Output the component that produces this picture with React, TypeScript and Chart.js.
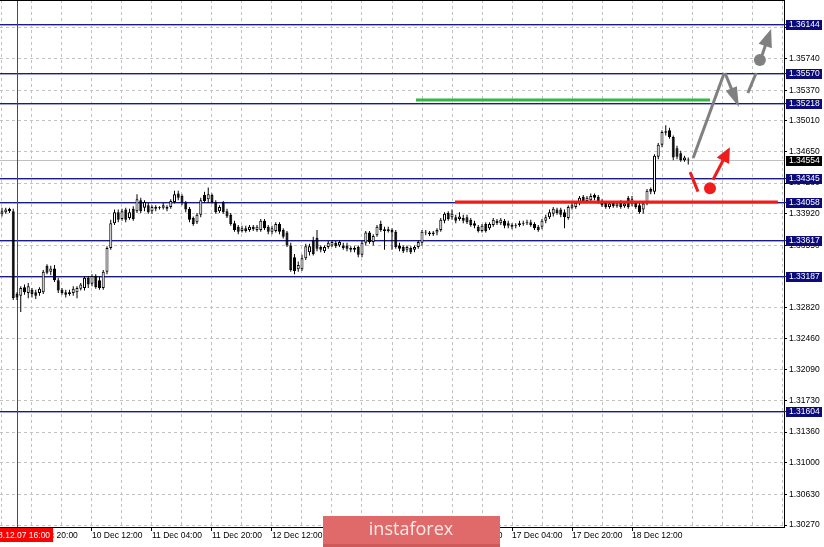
import React, { useEffect, useRef } from "react";
import { Chart, registerables } from "chart.js";

Chart.register(...registerables);

// ---- data (H1 candles, bar index 0 = 2018.12.07 16:00) ----
const FIRST_BAR = -4;

const opens = [
  1.3392, 1.3394, 1.3398, 1.3395, 1.3298, 1.3296, 1.3306, 1.3299, 1.3303, 1.33,
  1.3299, 1.33, 1.3331, 1.3324, 1.3328, 1.3314, 1.3303, 1.33, 1.3298, 1.3299,
  1.33, 1.3304, 1.3305, 1.3317, 1.331, 1.3319, 1.3314, 1.3305, 1.3324, 1.3352,
  1.3381, 1.3394, 1.3386, 1.3397, 1.3387, 1.3398, 1.3395, 1.3408, 1.3399, 1.3402,
  1.3395, 1.34, 1.3399, 1.3399, 1.34, 1.34, 1.3406, 1.3416, 1.3413, 1.3405,
  1.3398, 1.3387, 1.3382, 1.3391, 1.3414, 1.3409, 1.3414, 1.3406, 1.3395, 1.3405,
  1.3395, 1.3391, 1.3381, 1.3377, 1.3372, 1.3375, 1.3373, 1.3377, 1.3373, 1.3373,
  1.3384, 1.3377, 1.3371, 1.3372, 1.338, 1.3373, 1.337, 1.3355, 1.3341, 1.3327,
  1.3327, 1.334, 1.3347, 1.3361, 1.3364, 1.3353, 1.3348, 1.3353, 1.3355, 1.3358,
  1.3355, 1.3355, 1.3355, 1.3352, 1.335, 1.3353, 1.3344, 1.3358, 1.337, 1.3359,
  1.3367, 1.338, 1.3374, 1.3372, 1.3373, 1.3371, 1.3355, 1.3353, 1.335, 1.3352,
  1.335, 1.3353, 1.3358, 1.3371, 1.337, 1.3368, 1.337, 1.3373, 1.3384, 1.3393,
  1.3388, 1.3388, 1.3386, 1.3387, 1.3388, 1.3385, 1.3381, 1.3377, 1.3372, 1.338,
  1.3375, 1.3379, 1.3384, 1.3381, 1.3384, 1.3381, 1.3377, 1.3379, 1.3379, 1.3381,
  1.3381, 1.3382, 1.338, 1.3377, 1.3377, 1.3384, 1.3388, 1.3392, 1.3397, 1.3397,
  1.3394, 1.3387, 1.3399, 1.34, 1.3405, 1.3412, 1.3407, 1.3408, 1.3414, 1.3412,
  1.3407, 1.3405, 1.34, 1.3405, 1.3401, 1.3405, 1.3401, 1.3411, 1.3404, 1.3405,
  1.3402, 1.3397, 1.3405, 1.3421, 1.3418, 1.3459, 1.3473, 1.3487, 1.349, 1.3482,
  1.3469, 1.3463, 1.3455, 1.3456,
];

const highs = [
  1.3399, 1.3399, 1.3399, 1.3398, 1.33, 1.3307, 1.3309, 1.3311, 1.3305, 1.3303,
  1.3306, 1.3326, 1.3333, 1.3331, 1.3332, 1.3317, 1.3305, 1.3303, 1.3303, 1.3307,
  1.3307, 1.3311, 1.3319, 1.3319, 1.3321, 1.3321, 1.3318, 1.3326, 1.3354, 1.3385,
  1.3397, 1.3397, 1.3398, 1.3399, 1.3398, 1.3401, 1.3415, 1.3411, 1.3408, 1.3405,
  1.3402, 1.3402, 1.3401, 1.3405, 1.3402, 1.3409, 1.3419, 1.3419, 1.3415, 1.3407,
  1.34, 1.3389, 1.3393, 1.3411, 1.3418, 1.3423, 1.3416, 1.3408, 1.3402, 1.3407,
  1.3398, 1.3393, 1.3384, 1.3379, 1.3378, 1.3378, 1.3379, 1.3379, 1.3379, 1.3386,
  1.3386, 1.3379, 1.3378, 1.3382, 1.3382, 1.3375, 1.3372, 1.3358, 1.3345, 1.3336,
  1.3344, 1.3357, 1.3357, 1.3365, 1.3373, 1.3355, 1.3355, 1.336, 1.3361, 1.336,
  1.3361, 1.3358, 1.3358, 1.3354, 1.3354, 1.3355, 1.336, 1.3372, 1.3372, 1.3368,
  1.3379, 1.3384, 1.3377, 1.3377, 1.3375, 1.3373, 1.3358, 1.3355, 1.3355, 1.3354,
  1.3355, 1.3361, 1.3373, 1.3373, 1.3372, 1.3372, 1.3375, 1.3387, 1.3394, 1.3395,
  1.3397, 1.3391, 1.3394, 1.3391, 1.3391, 1.3387, 1.3384, 1.3379, 1.338, 1.3382,
  1.3382, 1.3387, 1.3386, 1.3387, 1.3386, 1.3384, 1.3381, 1.3381, 1.3384, 1.3384,
  1.3385, 1.3385, 1.3382, 1.3379, 1.3386, 1.3391, 1.3397, 1.34, 1.3399, 1.3399,
  1.3397, 1.3402, 1.3405, 1.3407, 1.3413, 1.3414, 1.3413, 1.3416, 1.3416, 1.3414,
  1.3409, 1.3407, 1.3406, 1.3407, 1.3406, 1.3408, 1.3406, 1.3413, 1.3413, 1.3407,
  1.3405, 1.3407, 1.3421, 1.3423, 1.3462, 1.3475, 1.349, 1.3496, 1.3493, 1.3484,
  1.3472, 1.3466, 1.346, 1.3458,
];

const lows = [
  1.3389, 1.3392, 1.3393, 1.3291, 1.3291, 1.3277, 1.3297, 1.3293, 1.3294, 1.3292,
  1.3296, 1.3298, 1.3321, 1.332, 1.3312, 1.3299, 1.3297, 1.3294, 1.3296, 1.3296,
  1.3293, 1.3302, 1.3302, 1.3305, 1.3307, 1.3304, 1.3303, 1.3303, 1.3321, 1.335,
  1.3379, 1.3382, 1.3384, 1.3382, 1.3385, 1.3384, 1.3393, 1.3393, 1.3395, 1.3392,
  1.3392, 1.3395, 1.3397, 1.3397, 1.3395, 1.3398, 1.3404, 1.3408, 1.3402, 1.3394,
  1.3382, 1.3378, 1.338, 1.3388, 1.3405, 1.3405, 1.3404, 1.3392, 1.3393, 1.3392,
  1.3387, 1.3378, 1.3371, 1.3368, 1.337, 1.337, 1.3371, 1.3372, 1.3371, 1.3371,
  1.3373, 1.3368, 1.3368, 1.337, 1.3368, 1.3363, 1.3353, 1.3324, 1.3321, 1.3324,
  1.3325, 1.3338, 1.3343, 1.3343, 1.3348, 1.3347, 1.3346, 1.3351, 1.3353, 1.3352,
  1.3353, 1.335, 1.3348, 1.3347, 1.3347, 1.3341, 1.3341, 1.3355, 1.3357, 1.3355,
  1.3365, 1.3371, 1.335, 1.337, 1.335, 1.3351, 1.3348, 1.3346, 1.3347, 1.3345,
  1.3347, 1.3351, 1.3355, 1.3367, 1.3366, 1.3366, 1.3367, 1.3371, 1.3381, 1.3384,
  1.3385, 1.3381, 1.3384, 1.3381, 1.338, 1.3377, 1.3375, 1.337, 1.337, 1.337,
  1.3373, 1.3377, 1.3379, 1.3379, 1.3375, 1.3375, 1.3374, 1.3375, 1.3377, 1.3378,
  1.3379, 1.3377, 1.3373, 1.3371, 1.3374, 1.3381, 1.3386, 1.3389, 1.3391, 1.3388,
  1.3375, 1.3385, 1.3397, 1.3398, 1.3402, 1.3405, 1.3405, 1.3406, 1.3408, 1.3404,
  1.34, 1.3398, 1.3398, 1.3399, 1.3399, 1.3398, 1.3399, 1.3398, 1.3401, 1.3398,
  1.3392, 1.3392, 1.3402, 1.3415, 1.3415, 1.3456, 1.347, 1.3484, 1.348, 1.3455,
  1.3456, 1.3453, 1.3453, 1.345,
];

const closes = [
  1.3395, 1.3397, 1.3395, 1.3293, 1.3294, 1.3305, 1.33, 1.3307, 1.3298, 1.3296,
  1.3304, 1.3324, 1.3323, 1.3328, 1.3314, 1.3302, 1.3299, 1.3297, 1.33, 1.3304,
  1.3305, 1.3309, 1.3317, 1.3309, 1.3319, 1.3306, 1.3305, 1.3324, 1.3352, 1.3381,
  1.3394, 1.3385, 1.3395, 1.3385, 1.3394, 1.3386, 1.3409, 1.3395, 1.3406, 1.3394,
  1.34, 1.3398, 1.34, 1.3402, 1.3398, 1.3407, 1.3415, 1.3411, 1.3405, 1.3397,
  1.3385, 1.338, 1.3391, 1.3408, 1.3407, 1.3415, 1.3406, 1.3394, 1.34, 1.3394,
  1.3389, 1.338, 1.3373, 1.3371, 1.3375, 1.3372, 1.3377, 1.3374, 1.3377, 1.3384,
  1.3375, 1.3371, 1.3375, 1.338, 1.3371, 1.3365, 1.3355, 1.3326, 1.3325, 1.3332,
  1.334, 1.3354, 1.3354, 1.3345, 1.3351, 1.335, 1.3353, 1.3358, 1.3359, 1.3354,
  1.3359, 1.3352, 1.3351, 1.335, 1.3352, 1.3344, 1.3358, 1.337, 1.3359, 1.3366,
  1.3377, 1.3373, 1.3372, 1.3374, 1.337, 1.3353, 1.3351, 1.3348, 1.3353, 1.3347,
  1.3353, 1.3359, 1.3371, 1.337, 1.3368, 1.337, 1.3373, 1.3385, 1.3392, 1.3386,
  1.3392, 1.3384, 1.3389, 1.3384, 1.3382, 1.3379, 1.3378, 1.3372, 1.3378, 1.3372,
  1.338, 1.3385, 1.3381, 1.3385, 1.3378, 1.3378, 1.3379, 1.3378, 1.3381, 1.338,
  1.3382, 1.3379, 1.3375, 1.3373, 1.3384, 1.3388, 1.3394, 1.3398, 1.3393, 1.3391,
  1.3388, 1.34, 1.3402, 1.3405, 1.3411, 1.3407, 1.3411, 1.3413, 1.3411, 1.3406,
  1.3402, 1.34, 1.3404, 1.3401, 1.3404, 1.34, 1.3404, 1.34, 1.3409, 1.34,
  1.3394, 1.3404, 1.3419, 1.3418, 1.346, 1.3473, 1.3488, 1.3489, 1.3482, 1.3458,
  1.3459, 1.3455, 1.3458, 1.34554,
];

// ---- axes ----
const xMin = -4.5333;
const xMax = 204.5333;
const yMin = 1.302466;
const yMax = 1.364284;

const gridBars = [-4, 4, 12, 20, 28, 36, 44, 52, 60, 68, 76, 84, 92, 100, 108, 116, 124, 132, 140, 148, 156, 164, 172, 180, 188, 196, 204];
const timeTickBars = [4, 20, 36, 52, 68, 84, 100, 116, 132, 148, 164];
const timeTickLabels = ["7 Dec 20:00", "10 Dec 12:00", "11 Dec 04:00", "11 Dec 20:00", "12 Dec 12:00", "13 Dec 04:00", "13 Dec 20:00", "14 Dec 12:00", "17 Dec 04:00", "17 Dec 20:00", "18 Dec 12:00"];
const cursorBar = 0;
const cursorLabel = "2018.12.07 16:00";

const priceTicks = [1.361, 1.3574, 1.3537, 1.3501, 1.3465, 1.3428, 1.3392, 1.3355, 1.3319, 1.3282, 1.3246, 1.3209, 1.3173, 1.3136, 1.31, 1.3063, 1.3027];

// ---- levels & signals ----
const levelPrices = [1.36144, 1.3557, 1.35218, 1.34345, 1.34058, 1.33617, 1.33187, 1.31604];
const currentPrice = 1.34554;

const greenSignalBars = [106.4, 184.8];
const greenSignalPrice = 1.35255;
const redSignalBars = [116.8, 202.9];
const redSignalPrice = 1.34058;

const redDashBars = [179.5, 181.6];
const redDashPrices = [1.3441, 1.3418];
const redDotPoint = [184.8, 1.3422];
const redArrowBars = [185.6, 190.1];
const redArrowPrices = [1.3432, 1.347];

const grayUpBars = [180.3, 188.6];
const grayUpPrices = [1.34575, 1.35572];
const grayDownBars = [188.8, 192.5];
const grayDownPrices = [1.35572, 1.35173];
const grayDashBars = [194.9, 197.1];
const grayDashPrices = [1.35337, 1.35572];
const grayDotPoint = [198.1, 1.35724];
const grayArrowBars = [198.7, 201.1];
const grayArrowPrices = [1.35783, 1.36088];

const FONT = "'Liberation Sans', Arial, sans-serif";

function drawArrow(ctx: CanvasRenderingContext2D, x1: number, y1: number, x2: number, y2: number, color: string, lw: number, headLen: number, headW: number) {
  const ang = Math.atan2(y2 - y1, x2 - x1);
  const bx = x2 - headLen * Math.cos(ang);
  const by = y2 - headLen * Math.sin(ang);
  ctx.save();
  ctx.strokeStyle = color;
  ctx.fillStyle = color;
  ctx.lineWidth = lw;
  ctx.beginPath();
  ctx.moveTo(x1, y1);
  ctx.lineTo(bx + 1 * Math.cos(ang), by + 1 * Math.sin(ang));
  ctx.stroke();
  ctx.beginPath();
  ctx.moveTo(x2, y2);
  ctx.lineTo(bx + headW * Math.sin(ang), by - headW * Math.cos(ang));
  ctx.lineTo(bx - headW * Math.sin(ang), by + headW * Math.cos(ang));
  ctx.closePath();
  ctx.fill();
  ctx.restore();
}

function drawSeg(ctx: CanvasRenderingContext2D, x1: number, y1: number, x2: number, y2: number, color: string, lw: number) {
  ctx.save();
  ctx.strokeStyle = color;
  ctx.lineWidth = lw;
  ctx.beginPath();
  ctx.moveTo(x1, y1);
  ctx.lineTo(x2, y2);
  ctx.stroke();
  ctx.restore();
}

function drawDot(ctx: CanvasRenderingContext2D, x: number, y: number, r: number, color: string) {
  ctx.save();
  ctx.fillStyle = color;
  ctx.beginPath();
  ctx.arc(x, y, r, 0, Math.PI * 2);
  ctx.fill();
  ctx.restore();
}

const overlayPlugin = {
  id: "overlay",
  beforeDatasetsDraw(chart: any) {
    const { ctx, chartArea, scales } = chart;
    const xs = scales.x;
    const ys = scales.y;
    ctx.save();
    // current price line
    const cy = Math.round(ys.getPixelForValue(currentPrice)) + 0.5;
    ctx.strokeStyle = "#c0c0c0";
    ctx.lineWidth = 1;
    ctx.beginPath();
    ctx.moveTo(chartArea.left, cy);
    ctx.lineTo(chartArea.right, cy);
    ctx.stroke();
    // level lines
    levelPrices.forEach((p) => {
      const y = Math.round(ys.getPixelForValue(p));
      ctx.strokeStyle = "#1a1a88";
      ctx.beginPath();
      ctx.moveTo(chartArea.left, y + 0.5);
      ctx.lineTo(chartArea.right + 2, y + 0.5);
      ctx.stroke();
      ctx.strokeStyle = "#a4a4d4";
      ctx.beginPath();
      ctx.moveTo(chartArea.left, y + 1.5);
      ctx.lineTo(chartArea.right, y + 1.5);
      ctx.stroke();
    });
    // cursor vertical line
    const vx = Math.round(xs.getPixelForValue(cursorBar)) + 0.5;
    ctx.strokeStyle = "#ff0000";
    ctx.beginPath();
    ctx.moveTo(vx, chartArea.top);
    ctx.lineTo(vx, chartArea.bottom);
    ctx.stroke();
    ctx.restore();
  },
  afterDatasetsDraw(chart: any) {
    const { ctx, scales } = chart;
    const X = (v: number) => scales.x.getPixelForValue(v);
    const Y = (v: number) => scales.y.getPixelForValue(v);
    ctx.save();
    ctx.lineCap = "butt";
    drawSeg(ctx, X(greenSignalBars[0]), Y(greenSignalPrice), X(greenSignalBars[1]), Y(greenSignalPrice), "#35b543", 3);
    drawSeg(ctx, X(redSignalBars[0]), Y(redSignalPrice), X(redSignalBars[1]), Y(redSignalPrice), "#f01c1c", 3);
    drawSeg(ctx, X(redDashBars[0]), Y(redDashPrices[0]), X(redDashBars[1]), Y(redDashPrices[1]), "#f01c1c", 3);
    drawDot(ctx, X(redDotPoint[0]), Y(redDotPoint[1]), 6, "#f01c1c");
    drawArrow(ctx, X(redArrowBars[0]), Y(redArrowPrices[0]), X(redArrowBars[1]), Y(redArrowPrices[1]), "#f01c1c", 3, 15, 7);
    drawSeg(ctx, X(grayUpBars[0]), Y(grayUpPrices[0]), X(grayUpBars[1]), Y(grayUpPrices[1]), "#808080", 3);
    drawArrow(ctx, X(grayDownBars[0]), Y(grayDownPrices[0]), X(grayDownBars[1]), Y(grayDownPrices[1]), "#808080", 3, 20, 6);
    drawSeg(ctx, X(grayDashBars[0]), Y(grayDashPrices[0]), X(grayDashBars[1]), Y(grayDashPrices[1]), "#808080", 3);
    drawDot(ctx, X(grayDotPoint[0]), Y(grayDotPoint[1]), 6, "#808080");
    drawArrow(ctx, X(grayArrowBars[0]), Y(grayArrowPrices[0]), X(grayArrowBars[1]), Y(grayArrowPrices[1]), "#808080", 3, 18, 7);
    ctx.restore();
  },
  afterDraw(chart: any) {
    const { ctx, chartArea, scales } = chart;
    const xs = scales.x;
    const ys = scales.y;
    ctx.save();
    ctx.fillStyle = "#000";
    ctx.fillRect(chartArea.left, 0, chartArea.right - chartArea.left + 1, 1);
    const tag = (p: number, bg: string) => {
      const y = Math.round(ys.getPixelForValue(p));
      ctx.fillStyle = bg;
      ctx.fillRect(chartArea.right + 2, y - 4, 36, 10);
      ctx.fillStyle = "#ffffff";
      ctx.font = `8.5px ${FONT}`;
      ctx.textAlign = "left";
      ctx.textBaseline = "middle";
      ctx.fillText(p.toFixed(5), chartArea.right + 5, y + 1);
    };
    levelPrices.forEach((p) => tag(p, "#0b0b7a"));
    tag(currentPrice, "#000000");
    const cx = xs.getPixelForValue(cursorBar);
    ctx.font = `8.5px ${FONT}`;
    const tw = ctx.measureText(cursorLabel).width;
    ctx.fillStyle = "#ff0000";
    ctx.fillRect(cx - tw / 2 - 3, chartArea.bottom + 1, tw + 6, 14);
    ctx.fillStyle = "#ffffff";
    ctx.textAlign = "center";
    ctx.textBaseline = "middle";
    ctx.fillText(cursorLabel, cx, chartArea.bottom + 8.5);
    ctx.fillStyle = "#e06a6a";
    ctx.fillRect(323, 516, 177, 31);
    ctx.fillStyle = "#cf5a5a";
    ctx.fillRect(323, 544, 177, 3);
    ctx.fillStyle = "#fbeaea";
    ctx.font = "18px 'Open Sans', sans-serif";
    ctx.textAlign = "center";
    ctx.textBaseline = "middle";
    ctx.fillText("instaforex", 411, 530);
    ctx.restore();
  },
};

export default function App() {
  const ref = useRef<HTMLCanvasElement | null>(null);

  useEffect(() => {
    const canvas = ref.current;
    if (!canvas) return;
    const bars = opens.map((_, k) => FIRST_BAR + k);
    const wickData = bars.map((b, k) => ({ x: b, y: [lows[k], highs[k]] }));
    const bodyData = bars.map((b, k) => ({ x: b, y: [opens[k], closes[k]] }));
    const bodyFill = bars.map((_, k) => (closes[k] >= opens[k] ? "#ffffff" : "#000000"));

    const chart = new Chart(canvas, {
      type: "bar",
      data: {
        datasets: [
          {
            data: wickData as any,
            backgroundColor: "#000000",
            borderWidth: 0,
            barThickness: 1,
            grouped: false,
            inflateAmount: 0,
            order: 2,
          } as any,
          {
            data: bodyData as any,
            backgroundColor: bodyFill,
            borderColor: "#000000",
            borderWidth: 1,
            borderSkipped: false,
            barThickness: 3,
            grouped: false,
            inflateAmount: 0,
            order: 1,
          } as any,
        ],
      },
      options: {
        animation: false,
        responsive: false,
        devicePixelRatio: 1,
        layout: { padding: 0 },
        plugins: { legend: { display: false }, tooltip: { enabled: false } },
        scales: {
          x: {
            type: "linear",
            position: "bottom",
            min: xMin,
            max: xMax,
            offset: false,
            afterBuildTicks: (s: any) => {
              s.ticks = gridBars.map((v) => ({ value: v }));
            },
            afterFit: (s: any) => {
              s.height = 20;
              s.paddingLeft = 0;
              s.paddingRight = 0;
              s.paddingTop = 0;
              s.paddingBottom = 0;
            },
            grid: {
              offset: false,
              color: "#c2c2c2",
              lineWidth: 1,
              drawTicks: true,
              tickLength: 4,
              tickColor: (c: any) => (c.tick && timeTickBars.includes(c.tick.value) ? "#000000" : "rgba(0,0,0,0)"),
            },
            border: { display: true, color: "#000000", width: 1, dash: [3, 3] },
            ticks: {
              autoSkip: false,
              maxRotation: 0,
              minRotation: 0,
              align: "start",
              padding: 0,
              color: "#000000",
              font: { family: FONT, size: 8.5 },
              callback: (v: any) => {
                const k = timeTickBars.indexOf(Number(v));
                return k >= 0 ? timeTickLabels[k] : "";
              },
            },
          } as any,
          y: {
            type: "linear",
            position: "right",
            min: yMin,
            max: yMax,
            beginAtZero: false,
            afterBuildTicks: (s: any) => {
              s.ticks = priceTicks.map((v) => ({ value: v }));
            },
            afterFit: (s: any) => {
              s.width = 40;
              s.paddingLeft = 0;
              s.paddingRight = 0;
              s.paddingTop = 0;
              s.paddingBottom = 0;
            },
            grid: { color: "#c2c2c2", lineWidth: 1, tickLength: 3, tickColor: "#000000" },
            border: { display: true, color: "#000000", width: 1, dash: [3, 3] },
            ticks: {
              padding: 2,
              color: "#000000",
              font: { family: FONT, size: 8.5 },
              callback: (v: any) => Number(v).toFixed(5),
            },
          } as any,
        },
      },
      plugins: [overlayPlugin as any],
    });
    return () => chart.destroy();
  }, []);

  return (
    <div style={{ position: "fixed", left: 0, top: 0, width: 824, height: 547, background: "#ffffff" }}>
      <canvas ref={ref} width={824} height={547} style={{ width: 824, height: 547, display: "block" }} />
    </div>
  );
}
